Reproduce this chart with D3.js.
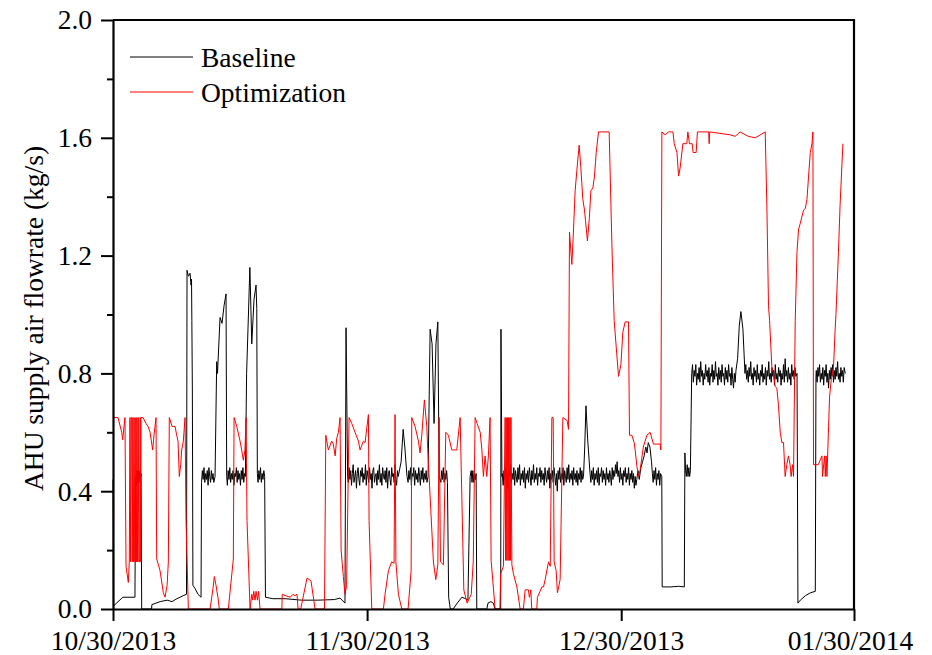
<!DOCTYPE html>
<html>
<head>
<meta charset="utf-8">
<script src="https://cdn.jsdelivr.net/npm/d3@7"></script>
<style>
body { margin: 0; background: #fff; }
svg text { font-family: "Liberation Serif", "Times New Roman", serif; }
</style>
</head>
<body>
<script>
// x values are days after 10/30/2013, y values are kg/s
var xTickValues = [0, 31, 62, 90.4];
var xTickLabels = ["10/30/2013", "11/30/2013", "12/30/2013", "01/30/2014"];
var yTickValues = [0, 0.4, 0.8, 1.2, 1.6, 2.0];
var yMinorTicks = [0.2, 0.6, 1.0, 1.4, 1.8];
var seriesNames = ["Baseline", "Optimization"];
var seriesColors = ["#000000", "#ff0000"];

var baseline = [
[0, 0.44], [0.05, 0.01], [1.2, 0.04], [2.68, 0.04],
[2.75, 0.45], [2.85, 0.42], [2.95, 0.47], [3.05, 0.43], [3.17, 0.47], [3.3, 0.43], [3.42, 0.46], [3.5, 0.0],
[4.7, 0.0], [4.75, 0.015], [5.25, 0.02], [5.75, 0.025], [6.6, 0.03], [7.2, 0.025], [7.8, 0.035], [8.55, 0.045], [8.97, 0.05],
[9.03, 1.15], [9.2, 1.13], [9.4, 1.14], [9.52, 1.1], [9.58, 1.12], [9.62, 0.98], [9.68, 0.75], [9.75, 0.08],
[10.0, 0.07], [10.37, 0.05], [10.74, 0.04],
[10.8, 0.43], [10.9, 0.47], [11.0, 0.44], [11.1, 0.48], [11.2, 0.43], [11.3, 0.46], [11.4, 0.44], [11.5, 0.47], [11.6, 0.42], [11.7, 0.48],
[11.8, 0.45], [11.9, 0.43], [12.0, 0.47], [12.1, 0.44], [12.2, 0.46], [12.3, 0.43], [12.45, 0.45],
[12.65, 0.84], [12.75, 0.8], [13.06, 0.99], [13.3, 0.97], [13.55, 1.03], [13.79, 1.07],
[13.87, 0.45], [13.95, 0.42], [14.05, 0.47], [14.15, 0.44], [14.25, 0.48], [14.35, 0.43], [14.45, 0.46], [14.55, 0.44], [14.65, 0.47], [14.75, 0.42],
[14.85, 0.46], [14.95, 0.45], [15.05, 0.48], [15.15, 0.43], [15.25, 0.47], [15.35, 0.44], [15.45, 0.46], [15.55, 0.42], [15.65, 0.47], [15.75, 0.44],
[15.85, 0.48], [15.95, 0.43], [16.05, 0.46], [16.15, 0.45],
[16.3, 0.8], [16.7, 1.16], [16.93, 0.9], [17.2, 1.05], [17.45, 1.1], [17.54, 1.02],
[17.61, 0.46], [17.7, 0.43], [17.8, 0.47], [17.9, 0.44], [18.0, 0.48], [18.1, 0.43], [18.2, 0.46], [18.3, 0.44], [18.4, 0.47], [18.5, 0.45],
[18.6, 0.04], [19.5, 0.035], [21, 0.035], [23, 0.03], [25, 0.03], [27, 0.032], [27.7, 0.037], [28.3, 0.02],
[28.43, 0.955], [28.62, 0.45],
[28.7, 0.43], [28.8, 0.48], [28.9, 0.44], [29.0, 0.47], [29.1, 0.42], [29.2, 0.46], [29.3, 0.49], [29.4, 0.43], [29.5, 0.45], [29.6, 0.47],
[29.7, 0.41], [29.8, 0.46], [29.9, 0.48], [30.0, 0.44], [30.1, 0.42], [30.2, 0.47], [30.3, 0.45], [30.4, 0.48], [30.5, 0.43], [30.6, 0.46],
[30.7, 0.44], [30.8, 0.49], [30.9, 0.42], [31.0, 0.47], [31.1, 0.45], [31.2, 0.43], [31.3, 0.48], [31.4, 0.44], [31.5, 0.46], [31.6, 0.41],
[31.7, 0.47], [31.8, 0.48], [31.9, 0.43], [32.0, 0.45], [32.1, 0.46], [32.2, 0.42], [32.3, 0.47], [32.4, 0.44], [32.5, 0.49], [32.6, 0.43],
[32.7, 0.46], [32.8, 0.42], [32.9, 0.48], [33.0, 0.45], [33.1, 0.44], [33.2, 0.47], [33.3, 0.43], [33.4, 0.48], [33.5, 0.41], [33.6, 0.46],
[33.7, 0.47], [33.8, 0.44], [33.9, 0.42], [34.0, 0.48], [34.1, 0.45], [34.2, 0.46], [34.3, 0.43], [34.4, 0.49], [34.5, 0.44], [34.6, 0.42],
[34.7, 0.47], [34.8, 0.45],
[35.15, 0.5], [35.4, 0.61], [35.6, 0.55], [35.87, 0.45],
[36.0, 0.43], [36.1, 0.47], [36.2, 0.44], [36.3, 0.48], [36.4, 0.42], [36.5, 0.46], [36.6, 0.45], [36.7, 0.48], [36.8, 0.42], [36.9, 0.47],
[37.0, 0.44], [37.1, 0.46], [37.2, 0.43], [37.3, 0.48], [37.4, 0.45], [37.5, 0.42], [37.6, 0.47], [37.7, 0.44], [37.8, 0.48], [37.9, 0.43],
[38.0, 0.46], [38.1, 0.44], [38.2, 0.47], [38.3, 0.43], [38.44, 0.45],
[38.69, 0.95], [38.93, 0.9], [39.17, 0.63], [39.4, 0.9], [39.63, 0.975], [39.79, 0.45],
[40.0, 0.43], [40.1, 0.47], [40.2, 0.44], [40.3, 0.48], [40.4, 0.43], [40.5, 0.46], [40.6, 0.44], [40.7, 0.47], [40.8, 0.43],
[40.95, 0.04], [41.15, 0.0], [41.5, 0.0], [42.0, 0.02], [42.56, 0.04], [43.0, 0.035], [43.3, 0.03],
[43.57, 0.45], [43.7, 0.47], [43.8, 0.43], [43.9, 0.47], [44.0, 0.43], [44.1, 0.46], [44.2, 0.44], [44.3, 0.46], [44.38, 0.0],
[45.6, 0.0], [45.75, 0.02], [46.1, 0.025], [46.4, 0.02], [46.6, 0.0],
[47.3, 0.0], [47.33, 0.95], [47.45, 0.45],
[47.5, 0.46], [47.6, 0.42], [47.7, 0.47], [47.8, 0.44], [47.9, 0.48], [48.0, 0.43], [48.1, 0.46], [48.2, 0.41], [48.3, 0.47], [48.4, 0.45],
[48.5, 0.49], [48.6, 0.43], [48.7, 0.46], [48.8, 0.44], [48.9, 0.48], [49.0, 0.42], [49.1, 0.47], [49.2, 0.45], [49.3, 0.43], [49.4, 0.48],
[49.5, 0.44], [49.6, 0.49], [49.7, 0.42], [49.8, 0.46], [49.9, 0.44], [50.0, 0.47], [50.1, 0.43], [50.2, 0.48], [50.3, 0.41], [50.4, 0.46],
[50.5, 0.44], [50.6, 0.47], [50.7, 0.43], [50.8, 0.48], [50.9, 0.45], [51.0, 0.42], [51.1, 0.47], [51.2, 0.44], [51.3, 0.49], [51.4, 0.43],
[51.5, 0.46], [51.6, 0.44], [51.7, 0.48], [51.8, 0.42], [51.9, 0.46], [52.0, 0.45], [52.1, 0.48], [52.2, 0.43], [52.3, 0.47], [52.4, 0.44],
[52.5, 0.46], [52.6, 0.42], [52.7, 0.48], [52.8, 0.45], [52.9, 0.43], [53.0, 0.47], [53.1, 0.44], [53.2, 0.48], [53.3, 0.41], [53.4, 0.46],
[53.5, 0.44], [53.6, 0.47], [53.7, 0.43], [53.8, 0.48], [53.9, 0.45], [54.0, 0.42], [54.1, 0.46], [54.2, 0.4], [54.3, 0.47], [54.4, 0.44],
[54.5, 0.48], [54.6, 0.43], [54.7, 0.46], [54.8, 0.44], [54.9, 0.48], [55.0, 0.42], [55.1, 0.47], [55.2, 0.45], [55.3, 0.43], [55.4, 0.48],
[55.5, 0.44], [55.6, 0.49], [55.7, 0.43], [55.8, 0.46], [55.9, 0.44], [56.0, 0.47], [56.1, 0.42], [56.2, 0.48], [56.3, 0.44], [56.4, 0.46],
[56.5, 0.43], [56.6, 0.47], [56.7, 0.42], [56.8, 0.46], [56.9, 0.44], [57.0, 0.48], [57.1, 0.43], [57.2, 0.47], [57.3, 0.44], [57.4, 0.45],
[57.55, 0.55], [57.7, 0.69], [57.9, 0.58], [58.2, 0.46],
[58.3, 0.43], [58.4, 0.47], [58.5, 0.44], [58.6, 0.48], [58.7, 0.42], [58.8, 0.46], [58.9, 0.44], [59.0, 0.47], [59.1, 0.43], [59.2, 0.48],
[59.3, 0.42], [59.4, 0.46], [59.5, 0.45], [59.6, 0.48], [59.7, 0.43], [59.8, 0.47], [59.9, 0.44], [60.0, 0.46], [60.1, 0.42], [60.2, 0.48],
[60.3, 0.44], [60.4, 0.46], [60.5, 0.43], [60.6, 0.47], [60.7, 0.45], [60.8, 0.42], [60.9, 0.48], [61.0, 0.44], [61.1, 0.47], [61.2, 0.45],
[61.3, 0.49], [61.4, 0.46], [61.5, 0.5], [61.6, 0.45], [61.7, 0.47], [61.8, 0.43], [61.9, 0.48], [62.0, 0.44], [62.1, 0.46], [62.2, 0.42],
[62.3, 0.47], [62.4, 0.45], [62.5, 0.48], [62.6, 0.43], [62.7, 0.46], [62.8, 0.44], [62.9, 0.48], [63.0, 0.42], [63.1, 0.46], [63.2, 0.44],
[63.3, 0.47], [63.4, 0.43], [63.5, 0.46], [63.6, 0.41], [63.7, 0.45], [63.8, 0.42], [63.9, 0.44],
[64.05, 0.47], [64.2, 0.44], [64.4, 0.48], [64.6, 0.5], [64.8, 0.52], [65.0, 0.55], [65.15, 0.53], [65.3, 0.565], [65.5, 0.55], [65.7, 0.5],
[65.8, 0.46], [65.9, 0.43], [66.0, 0.47], [66.1, 0.44], [66.2, 0.48], [66.3, 0.42], [66.4, 0.46], [66.5, 0.44], [66.6, 0.47], [66.7, 0.42], [66.8, 0.46], [66.95, 0.45],
[67.0, 0.075], [68.0, 0.075], [69.0, 0.077], [69.7, 0.075],
[69.77, 0.53], [69.85, 0.47], [69.95, 0.45], [70.05, 0.49], [70.15, 0.45], [70.25, 0.48], [70.35, 0.45], [70.44, 0.47],
[70.6, 0.8], [70.7, 0.83], [70.8, 0.77], [70.9, 0.81], [71.0, 0.79], [71.1, 0.83], [71.2, 0.76], [71.3, 0.8], [71.4, 0.78], [71.5, 0.82],
[71.6, 0.77], [71.7, 0.84], [71.8, 0.79], [71.9, 0.81], [72.0, 0.76], [72.1, 0.8], [72.2, 0.78], [72.3, 0.83], [72.4, 0.79], [72.5, 0.81],
[72.6, 0.77], [72.7, 0.82], [72.8, 0.76], [72.9, 0.8], [73.0, 0.79], [73.1, 0.83], [73.2, 0.77], [73.3, 0.81], [73.4, 0.78], [73.5, 0.84],
[73.6, 0.79], [73.7, 0.8], [73.8, 0.76], [73.9, 0.82], [74.0, 0.78], [74.1, 0.81], [74.2, 0.77], [74.3, 0.83], [74.4, 0.79], [74.5, 0.8],
[74.6, 0.76], [74.7, 0.82], [74.8, 0.78], [74.9, 0.81], [75.0, 0.77], [75.1, 0.83], [75.2, 0.79], [75.3, 0.8], [75.4, 0.76], [75.5, 0.82],
[75.6, 0.78], [75.7, 0.75], [75.8, 0.8], [75.9, 0.77], [76.0, 0.81],
[76.2, 0.85], [76.4, 0.96], [76.6, 1.01], [76.85, 0.95], [77.1, 0.8],
[77.2, 0.83], [77.3, 0.78], [77.4, 0.81], [77.5, 0.77], [77.6, 0.82], [77.7, 0.79], [77.8, 0.84], [77.9, 0.78], [78.0, 0.8], [78.1, 0.76],
[78.2, 0.82], [78.3, 0.79], [78.4, 0.81], [78.5, 0.77], [78.6, 0.83], [78.7, 0.78], [78.8, 0.8], [78.9, 0.76], [79.0, 0.81], [79.1, 0.79],
[79.2, 0.83], [79.3, 0.77], [79.4, 0.8], [79.5, 0.78], [79.6, 0.82], [79.7, 0.76], [79.8, 0.81], [79.9, 0.79], [80.0, 0.84], [80.1, 0.78],
[80.2, 0.8], [80.3, 0.77], [80.4, 0.82], [80.5, 0.79], [80.6, 0.81], [80.7, 0.76], [80.8, 0.83], [80.9, 0.78], [81.0, 0.8], [81.1, 0.77],
[81.2, 0.82], [81.3, 0.79], [81.4, 0.81], [81.5, 0.76], [81.6, 0.8], [81.7, 0.78], [81.8, 0.83], [81.9, 0.77], [82.0, 0.85], [82.1, 0.79],
[82.2, 0.81], [82.3, 0.77], [82.4, 0.82], [82.5, 0.78], [82.6, 0.8], [82.7, 0.76], [82.8, 0.83], [82.9, 0.79], [83.0, 0.81], [83.1, 0.78],
[83.2, 0.82], [83.3, 0.79], [83.45, 0.8],
[83.56, 0.02], [83.85, 0.03], [84.46, 0.045], [85.07, 0.055], [85.68, 0.06],
[85.76, 0.79], [85.8, 0.81], [85.9, 0.77], [86.0, 0.82], [86.1, 0.79], [86.2, 0.83], [86.3, 0.77], [86.4, 0.8], [86.5, 0.78], [86.6, 0.82],
[86.7, 0.76], [86.8, 0.81], [86.9, 0.79], [87.0, 0.83], [87.1, 0.77], [87.2, 0.8], [87.3, 0.75], [87.4, 0.81], [87.5, 0.78], [87.6, 0.82],
[87.7, 0.79], [87.8, 0.83], [87.9, 0.77], [88.0, 0.81], [88.1, 0.78], [88.2, 0.82], [88.3, 0.79], [88.4, 0.84], [88.5, 0.78], [88.6, 0.8],
[88.7, 0.77], [88.8, 0.82], [88.9, 0.79], [89.0, 0.81], [89.1, 0.77], [89.2, 0.82], [89.34, 0.8]
];

var optimization = [
[0, 0.65], [0.61, 0.65], [1.06, 0.6], [1.18, 0.575], [1.46, 0.65], [1.59, 0.145], [1.87, 0.09], [1.99, 0.16],
[2.07, 0.65], [2.15, 0.16], [2.22, 0.65], [2.3, 0.65], [2.35, 0.16], [2.43, 0.65], [2.5, 0.16], [2.58, 0.65], [2.65, 0.16], [2.72, 0.16],
[2.78, 0.65], [2.85, 0.16], [2.92, 0.65], [3.0, 0.16], [3.08, 0.65], [3.15, 0.16], [3.25, 0.16], [3.32, 0.65], [3.38, 0.16], [3.42, 0.65],
[3.66, 0.65], [4.03, 0.63], [4.27, 0.62], [4.52, 0.6], [4.84, 0.54], [5.0, 0.59], [5.25, 0.65], [5.33, 0.17], [5.74, 0.13], [6.14, 0.055],
[6.35, 0.04], [6.6, 0.08], [6.75, 0.16], [6.87, 0.65], [7.2, 0.62], [7.57, 0.62], [7.77, 0.59], [7.93, 0.57], [7.97, 0.54], [8.09, 0.45],
[8.26, 0.49], [8.38, 0.54], [8.58, 0.57], [8.79, 0.65], [8.91, 0.3], [9.19, 0.0],
[11.84, 0.0], [12.2, 0.07], [12.36, 0.11], [12.57, 0.08], [12.8, 0.04], [12.97, 0.0],
[14.07, 0.0], [14.68, 0.17], [14.77, 0.65], [15.1, 0.62], [15.5, 0.57], [15.7, 0.54], [15.9, 0.505], [16.1, 0.54], [16.23, 0.65], [16.35, 0.3], [16.72, 0.0],
[16.93, 0.05], [17.05, 0.03], [17.17, 0.06], [17.33, 0.03], [17.45, 0.06], [17.63, 0.03], [17.76, 0.06], [17.94, 0.0],
[20.6, 0.0], [20.65, 0.05], [21.1, 0.045], [21.6, 0.04], [21.97, 0.05], [22.2, 0.045], [22.45, 0.05], [22.58, 0.0],
[22.9, 0.0], [23.67, 0.105], [24.16, 0.095], [24.65, 0.0],
[25.8, 0.0], [25.96, 0.59], [26.27, 0.54], [26.68, 0.57], [26.88, 0.56], [27.1, 0.52], [27.3, 0.58], [27.5, 0.6], [27.7, 0.65], [27.83, 0.2],
[28.1, 0.11], [28.3, 0.05], [28.5, 0.08], [28.8, 0.65], [29.13, 0.63], [29.53, 0.6], [29.94, 0.57], [30.14, 0.54], [30.55, 0.57], [30.75, 0.565],
[31.16, 0.66], [31.24, 0.3], [31.57, 0.0],
[32.99, 0.0], [33.19, 0.05], [33.6, 0.13], [34.0, 0.16], [34.29, 0.155], [34.41, 0.66], [34.51, 0.16], [34.82, 0.05], [35.23, 0.0],
[36.0, 0.0], [36.37, 0.13], [36.45, 0.65], [36.85, 0.62], [37.26, 0.57], [37.46, 0.53], [37.67, 0.59], [37.99, 0.71], [38.28, 0.62], [38.4, 0.54],
[39.09, 0.16], [39.38, 0.1], [39.63, 0.15], [39.79, 0.65], [39.95, 0.16], [40.31, 0.15], [40.6, 0.6], [40.92, 0.59], [41.33, 0.54], [41.94, 0.54],
[42.35, 0.65], [42.8, 0.065], [43.2, 0.02], [43.7, 0.05], [43.95, 0.16], [44.18, 0.65], [44.42, 0.63], [44.8, 0.6], [45.0, 0.54], [45.19, 0.45],
[45.4, 0.52], [45.6, 0.45], [45.8, 0.52], [46.0, 0.65], [46.13, 0.165], [46.62, 0.0],
[47.2, 0.0], [47.3, 0.12], [47.63, 0.145], [47.84, 0.65], [47.9, 0.165], [47.97, 0.65], [48.05, 0.165], [48.12, 0.65], [48.2, 0.165], [48.27, 0.65],
[48.35, 0.165], [48.42, 0.65], [48.5, 0.165], [48.55, 0.65], [48.66, 0.15], [48.85, 0.12], [49.27, 0.075], [49.67, 0.0],
[50.07, 0.0], [50.28, 0.065], [50.68, 0.065], [50.8, 0.04], [50.97, 0.065], [51.09, 0.0],
[51.7, 0.0], [51.78, 0.04], [52.1, 0.06], [52.32, 0.075], [52.52, 0.075], [52.72, 0.1], [53.13, 0.16], [53.34, 0.145], [53.54, 0.65], [53.7, 0.65],
[53.82, 0.16], [54.06, 0.13], [54.22, 0.055], [54.55, 0.1], [54.88, 0.65], [55.4, 0.64], [55.57, 0.61], [55.69, 1.28], [55.98, 1.17], [56.17, 1.28],
[56.38, 1.42], [56.59, 1.49], [56.87, 1.575], [57.07, 1.5], [57.32, 1.39], [57.52, 1.355], [57.64, 1.32], [57.88, 1.25], [58.12, 1.33], [58.3, 1.42],
[58.54, 1.43], [58.74, 1.47], [58.95, 1.55], [59.23, 1.62], [60.53, 1.62], [60.86, 1.24], [61.14, 0.98], [61.39, 0.89], [61.67, 0.79], [61.96, 0.83],
[62.2, 0.94], [62.48, 0.975], [62.89, 0.975], [63.01, 0.59], [63.3, 0.59], [63.58, 0.565], [63.7, 0.54], [63.91, 0.485], [64.1, 0.45], [64.3, 0.47],
[64.5, 0.51], [64.7, 0.55], [65.13, 0.59], [65.53, 0.6], [65.93, 0.56], [66.35, 0.56], [66.75, 0.56], [66.84, 0.54], [66.96, 1.62],
[67.36, 1.61], [67.77, 1.62], [68.31, 1.62], [68.47, 1.58], [68.8, 1.55], [69.0, 1.47], [69.2, 1.5], [69.52, 1.58], [70.0, 1.58], [70.13, 1.62],
[70.33, 1.58], [70.66, 1.58], [70.77, 1.55], [71.14, 1.55], [71.3, 1.62], [72.67, 1.62], [72.73, 1.58], [72.8, 1.62], [75.3, 1.61], [75.9, 1.605],
[76.5, 1.62], [77.5, 1.605], [78.35, 1.6], [79.57, 1.62], [79.78, 1.355], [79.97, 1.03], [80.1, 0.98], [80.38, 0.82], [80.58, 0.8], [80.79, 0.755],
[80.99, 0.75], [81.19, 0.69], [81.4, 0.6], [81.6, 0.565], [81.8, 0.565], [82.0, 0.45], [82.2, 0.49], [82.4, 0.52], [82.6, 0.49], [82.73, 0.45],
[82.9, 0.49], [83.02, 0.45], [83.23, 0.98], [83.44, 1.21], [83.64, 1.29], [83.85, 1.31], [84.25, 1.355], [84.46, 1.36], [84.66, 1.39], [84.86, 1.47],
[85.07, 1.55], [85.27, 1.58], [85.39, 1.62], [85.46, 0.49], [86.04, 0.49], [86.49, 0.52], [86.56, 0.45], [86.81, 0.52], [86.9, 0.45], [87.0, 0.52],
[87.1, 0.45], [87.3, 0.62], [87.42, 0.72], [87.63, 0.78], [87.9, 0.82], [88.1, 0.95], [88.2, 1.0], [88.5, 1.21], [88.7, 1.37], [88.93, 1.51], [89.05, 1.58]
];

var w = 932;
var h = 655;
var plotLeft = 113, plotRight = 854, plotTop = 20, plotBottom = 609;
var fontSize = "27.5px";

var svg = d3.select("body")
			.append("svg")
			.attr("width", w)
			.attr("height", h);

var x = d3.scaleLinear().domain([0, 90.4]).range([plotLeft, plotRight]);
var y = d3.scaleLinear().domain([0, 2]).range([plotBottom, plotTop]);

var line = d3.line()
	.x(function(d) { return x(d[0]); })
	.y(function(d) { return y(d[1]); });

// series, red drawn on top
svg.selectAll("path.series")
   .data([baseline, optimization])
   .enter()
   .append("path")
   .attr("class", "series")
   .attr("d", line)
   .attr("fill", "none")
   .attr("stroke", function(d, i) { return seriesColors[i]; })
   .attr("stroke-width", 1)
   .attr("stroke-linejoin", "miter");

// frame top and right
svg.append("path")
   .attr("d", "M" + plotLeft + "," + plotTop + "H" + plotRight + "V" + plotBottom)
   .attr("fill", "none")
   .attr("stroke", "#000")
   .attr("stroke-width", 2.2);

// y minor ticks
svg.append("g")
   .attr("transform", "translate(" + plotLeft + ",0)")
   .call(d3.axisLeft(y).tickValues(yMinorTicks).tickSize(6).tickSizeOuter(0).tickFormat(""))
   .call(function(g) { g.select(".domain").remove(); })
   .selectAll("line").attr("stroke-width", 2);

// y axis
var yAxis = svg.append("g")
   .attr("transform", "translate(" + plotLeft + ",0)")
   .call(d3.axisLeft(y).tickValues(yTickValues).tickSize(12).tickSizeOuter(0).tickPadding(9).tickFormat(d3.format(".1f")));
yAxis.select(".domain").attr("stroke-width", 2.2);
yAxis.selectAll("line").attr("stroke-width", 2);
yAxis.selectAll("text")
	 .attr("font-size", fontSize)
	 .attr("font-family", "Liberation Serif")
	 .attr("fill", "#000");

// x axis
var xAxis = svg.append("g")
   .attr("transform", "translate(0," + plotBottom + ")")
   .call(d3.axisBottom(x).tickValues(xTickValues).tickSize(12).tickSizeOuter(0).tickPadding(9)
		.tickFormat(function(d, i) { return xTickLabels[i]; }));
xAxis.select(".domain").attr("stroke-width", 2.2);
xAxis.selectAll("line").attr("stroke-width", 2);
xAxis.selectAll("text")
	 .attr("font-size", fontSize)
	 .attr("font-family", "Liberation Serif")
	 .attr("fill", "#000")
	 .attr("dx", function(d, i) { return i == xTickLabels.length - 1 ? -4 : 0; });

// axis title
svg.append("text")
   .attr("transform", "translate(43," + ((plotTop + plotBottom) / 2 + 4) + ") rotate(-90)")
   .attr("text-anchor", "middle")
   .attr("font-size", fontSize)
   .text("AHU supply air flowrate (kg/s)");

// legend
var legend = svg.selectAll("g.legend")
	.data(seriesNames)
	.enter()
	.append("g")
	.attr("class", "legend")
	.attr("transform", function(d, i) { return "translate(130," + (57 + i * 35) + ")"; });
legend.append("line")
	  .attr("x1", 0)
	  .attr("x2", 63)
	  .attr("stroke", function(d, i) { return seriesColors[i]; })
	  .attr("stroke-width", 1);
legend.append("text")
	  .attr("x", 71)
	  .attr("y", 9.5)
	  .attr("font-size", fontSize)
	  .text(function(d) { return d; });
</script>
</body>
</html>
